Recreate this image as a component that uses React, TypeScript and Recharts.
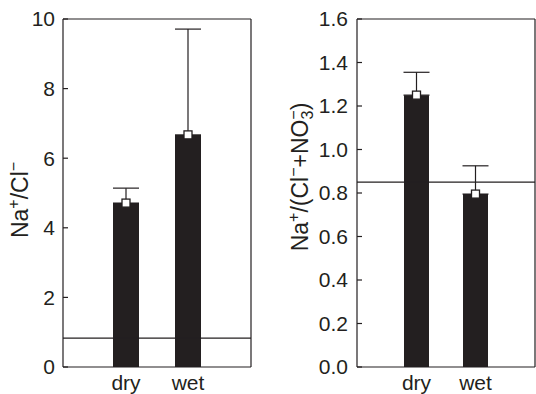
import React from 'react';
import {
  ComposedChart,
  Bar,
  Line,
  XAxis,
  YAxis,
  ErrorBar,
  ReferenceLine,
} from 'recharts';

const categories = ['dry', 'wet'];
const naClValues = [4.71, 6.67];
const naClErrors = [0.43, 3.04];
const naClReference = 0.83;
const naClTicks = [0, 2, 4, 6, 8, 10];

const ratioValues = [1.25, 0.795];
const ratioErrors = [0.105, 0.13];
const ratioReference = 0.85;
const ratioTicks = [0, 0.2, 0.4, 0.6, 0.8, 1.0, 1.2, 1.4, 1.6];

const INK = '#231f20';
const FONT = '"Liberation Sans", Arial, Helvetica, sans-serif';

const naClData = categories.map((c, i) => ({
  name: c,
  value: naClValues[i],
  err: [0, naClErrors[i]],
}));
const ratioData = categories.map((c, i) => ({
  name: c,
  value: ratioValues[i],
  err: [0, ratioErrors[i]],
}));

const SquareDot = (props: any) => {
  const { cx, cy } = props;
  if (cx == null || cy == null) return null;
  return (
    <rect
      x={cx - 4}
      y={cy - 4}
      width={8}
      height={8}
      fill="#ffffff"
      stroke={INK}
      strokeWidth={1.3}
    />
  );
};

const LeftLabel = () => {
  const cx = 20;
  const cy = 200;
  return (
    <text
      x={cx}
      y={cy + 8}
      transform={`rotate(-90 ${cx} ${cy})`}
      textAnchor="middle"
      fontFamily={FONT}
      fontSize={23}
      fill={INK}
    >
      Na
      <tspan dy={-9} fontSize={16}>+</tspan>
      <tspan dy={9}>/Cl</tspan>
      <tspan dy={-9} fontSize={16}>−</tspan>
    </text>
  );
};

const RightLabel = () => {
  const cx = 32;
  const cy = 177;
  return (
    <text
      x={cx}
      y={cy + 8}
      transform={`rotate(-90 ${cx} ${cy})`}
      textAnchor="middle"
      fontFamily={FONT}
      fontSize={23}
      fill={INK}
    >
      Na
      <tspan dy={-9} fontSize={16}>+</tspan>
      <tspan dy={9}>/(Cl</tspan>
      <tspan dy={-9} fontSize={16}>−</tspan>
      <tspan dy={9}>+NO</tspan>
      <tspan dy={5} fontSize={16}>3</tspan>
      <tspan dy={-14} dx={-9} fontSize={16}>−</tspan>
      <tspan dy={9}>)</tspan>
    </text>
  );
};

type PanelProps = {
  data: any[];
  domain: [number, number];
  ticks: number[];
  reference: number;
  width: number;
  leftAxisWidth: number;
  padding: number;
  barSize: number;
  tickMargin: number;
  format: (v: number) => string;
  label: React.ReactElement;
};

const Panel = ({
  data,
  domain,
  ticks,
  reference,
  width,
  leftAxisWidth,
  padding,
  barSize,
  tickMargin,
  format,
  label,
}: PanelProps) => (
  <ComposedChart
    width={width}
    height={394}
    data={data}
    margin={{ top: 18, right: 0, bottom: 1, left: 0 }}
    barCategoryGap={0}
  >
    <XAxis
      dataKey="name"
      xAxisId="bottom"
      orientation="bottom"
      height={26}
      padding={{ left: padding, right: padding }}
      axisLine={{ stroke: INK, strokeWidth: 1.2 }}
      tickLine={false}
      tickSize={6}
      tickMargin={2}
      tick={{ fill: INK, fontSize: 21, fontFamily: FONT }}
    />
    <XAxis
      dataKey="name"
      xAxisId="top"
      orientation="top"
      height={1}
      padding={{ left: padding, right: padding }}
      axisLine={{ stroke: INK, strokeWidth: 1.2 }}
      tickLine={{ stroke: INK, strokeWidth: 1.2 }}
      tickSize={-5}
      tick={false}
    />
    <YAxis
      yAxisId="left"
      orientation="left"
      width={leftAxisWidth}
      domain={domain}
      ticks={ticks}
      interval={0}
      allowDataOverflow
      axisLine={{ stroke: INK, strokeWidth: 1.2 }}
      tickLine={{ stroke: INK, strokeWidth: 1.2 }}
      tickSize={-5}
      tickMargin={tickMargin}
      tickFormatter={format}
      tick={{ fill: INK, fontSize: 21, fontFamily: FONT }}
      label={label}
    />
    <YAxis
      yAxisId="right"
      orientation="right"
      width={1}
      domain={domain}
      ticks={ticks}
      interval={0}
      allowDataOverflow
      axisLine={{ stroke: INK, strokeWidth: 1.2 }}
      tickLine={{ stroke: INK, strokeWidth: 1.2 }}
      tickSize={-5}
      tick={false}
    />
    <ReferenceLine
      y={reference}
      xAxisId="bottom"
      yAxisId="left"
      stroke={INK}
      strokeWidth={1.2}
    />
    <Bar
      dataKey="value"
      xAxisId="bottom"
      yAxisId="left"
      fill={INK}
      barSize={barSize}
      isAnimationActive={false}
    >
      <ErrorBar
        dataKey="err"
        direction="y"
        width={13}
        stroke={INK}
        strokeWidth={1.2}
      />
    </Bar>
    <Line
      dataKey="value"
      xAxisId="bottom"
      yAxisId="left"
      stroke="none"
      dot={<SquareDot />}
      activeDot={false}
      isAnimationActive={false}
    />
  </ComposedChart>
);

export default function App() {
  return (
    <div
      style={{
        position: 'absolute',
        left: 0,
        top: 0,
        width: 536,
        height: 394,
        background: '#ffffff',
        display: 'flex',
        flexDirection: 'row',
      }}
    >
      <Panel
        data={naClData}
        domain={[0, 10]}
        ticks={naClTicks}
        reference={naClReference}
        width={252}
        leftAxisWidth={63}
        padding={32}
        barSize={26}
        tickMargin={13}
        format={(v) => String(v)}
        label={<LeftLabel />}
      />
      <div style={{ width: 16 }} />
      <Panel
        data={ratioData}
        domain={[0, 1.6]}
        ticks={ratioTicks}
        reference={ratioReference}
        width={268}
        leftAxisWidth={89}
        padding={30}
        barSize={25}
        tickMargin={14}
        format={(v) => v.toFixed(1)}
        label={<RightLabel />}
      />
    </div>
  );
}
